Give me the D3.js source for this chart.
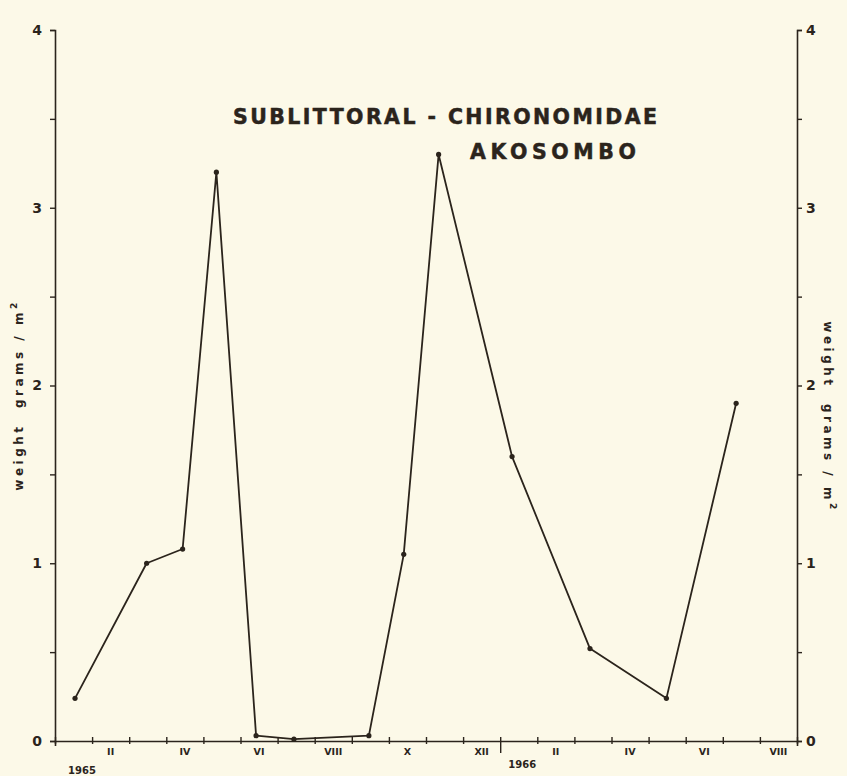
<!DOCTYPE html>
<html>
<head>
<meta charset="utf-8">
<script src="https://cdn.jsdelivr.net/npm/d3@7"></script>
<style>
  html, body { margin: 0; padding: 0; background: #fcf9e8; }
  svg { display: block; }
  text { font-family: "DejaVu Sans", "Liberation Sans", sans-serif; font-weight: bold; fill: #2b241c; }
</style>
</head>
<body>
<script>
// ---- data ----
// sampling positions in months since 1 Jan 1965
const sampleMonths = [0.54, 2.47, 3.44, 4.35, 5.42, 6.44, 8.46, 9.4, 10.34, 12.32, 14.42, 16.48, 18.36];
// weight grams / m2
const weights = [0.24, 1.0, 1.08, 3.2, 0.03, 0.01, 0.03, 1.05, 3.3, 1.6, 0.52, 0.24, 1.9];
// month labels (shown in even months, centred within the month)
const monthLabels = ["", "II", "", "IV", "", "VI", "", "VIII", "", "X", "", "XII",
                     "", "II", "", "IV", "", "VI", "", "VIII"];
const yearLabels = [{ label: "1965", month: 0 }, { label: "1966", month: 12 }];
const yTickValues = [0, 0.5, 1, 1.5, 2, 2.5, 3, 3.5, 4];
const titleLines = ["SUBLITTORAL - CHIRONOMIDAE", "AKOSOMBO"];
const yTitle = "weight  grams / m";

// ---- layout ----
const W = 847, H = 776;
const mLeft = 55, mRight = 797, mTop = 30, mBottom = 741;
const ink = "#2b241c";

const svg = d3.select("body").append("svg").attr("width", W).attr("height", H);
svg.append("rect").attr("width", W).attr("height", H).attr("fill", "#fcf9e8");

const x = d3.scaleLinear().domain([0, 20]).range([mLeft, mRight]);
const y = d3.scaleLinear().domain([0, 4]).range([mBottom, mTop]);

// left axis
const yLeft = d3.axisLeft(y).tickValues(yTickValues).tickSize(5)
  .tickFormat(d => Number.isInteger(d) ? d : "");
const gl = svg.append("g").attr("transform", `translate(${mLeft},0)`).call(yLeft);
// right axis
const yRight = d3.axisRight(y).tickValues(yTickValues).tickSize(5)
  .tickFormat(d => Number.isInteger(d) ? d : "");
const gr = svg.append("g").attr("transform", `translate(${mRight},0)`).call(yRight);
[gl, gr].forEach(g => {
  g.select(".domain").attr("stroke", ink).attr("stroke-width", 1.6);
  g.selectAll(".tick line").attr("stroke", ink).attr("stroke-width", 1.4);
  g.selectAll(".tick text").attr("font-size", 14).attr("fill", ink)
    .style("font-family", "DejaVu Sans").style("font-weight", "bold");
});
gl.selectAll(".tick text").attr("x", -13);
gr.selectAll(".tick text").attr("x", 9);

// x axis
const xAxis = d3.axisBottom(x).tickValues(d3.range(0, 21)).tickSize(5).tickFormat("");
const gx = svg.append("g").attr("transform", `translate(0,${mBottom})`).call(xAxis);
gx.select(".domain").attr("stroke", ink).attr("stroke-width", 1.6);
gx.selectAll(".tick line").attr("stroke", ink).attr("stroke-width", 1.4)
  .attr("y1", -4).attr("y2", d => d === 12 ? 12 : 3);

// month labels
svg.append("g").selectAll("text").data(monthLabels.map((l, i) => ({ l, i })).filter(d => d.l))
  .join("text")
  .attr("x", d => x(d.i + 0.5))
  .attr("y", mBottom + 14)
  .attr("text-anchor", "middle")
  .attr("font-size", 9.5)
  .text(d => d.l);

// year labels
svg.append("g").selectAll("text").data(yearLabels).join("text")
  .attr("x", d => x(d.month) + (d.month === 0 ? 27 : 22))
  .attr("y", d => d.month === 0 ? mBottom + 33 : mBottom + 27)
  .attr("text-anchor", "middle")
  .attr("font-size", 10)
  .text(d => d.label);

// line + points
const pts = sampleMonths.map((m, i) => ({ m, v: weights[i] }));
svg.append("path").datum(pts)
  .attr("fill", "none").attr("stroke", ink).attr("stroke-width", 1.8)
  .attr("stroke-linejoin", "round")
  .attr("d", d3.line().x(d => x(d.m)).y(d => y(d.v)));
svg.append("g").selectAll("circle").data(pts).join("circle")
  .attr("cx", d => x(d.m)).attr("cy", d => y(d.v)).attr("r", 2.6).attr("fill", ink);

// title
svg.append("text").attr("x", 233).attr("y", 124)
  .attr("font-size", 20.5).attr("textLength", 424).attr("lengthAdjust", "spacing")
  .attr("stroke", ink).attr("stroke-width", 0.5)
  .text(titleLines[0]);
svg.append("text").attr("x", 470).attr("y", 159)
  .attr("font-size", 20.5).attr("textLength", 166).attr("lengthAdjust", "spacing")
  .attr("stroke", ink).attr("stroke-width", 0.5)
  .text(titleLines[1]);

// y titles
function yTitleText(g) {
  g.append("tspan").text(yTitle);
  g.append("tspan").attr("dy", -6).attr("font-size", 9).text("2");
}
const lt = svg.append("text")
  .attr("transform", `translate(23,395) rotate(-90)`)
  .attr("text-anchor", "middle").attr("font-size", 12)
  .attr("letter-spacing", 3.5).attr("xml:space", "preserve");
yTitleText(lt);
const rt = svg.append("text")
  .attr("transform", `translate(824,417) rotate(90)`)
  .attr("text-anchor", "middle").attr("font-size", 12)
  .attr("letter-spacing", 3.5).attr("xml:space", "preserve");
yTitleText(rt);
</script>
</body>
</html>
